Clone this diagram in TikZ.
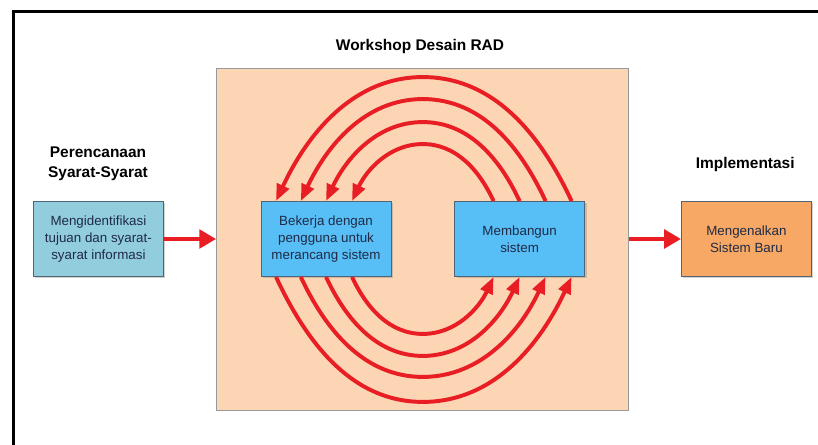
\documentclass[tikz,border=0pt]{standalone}
\usepackage{fontspec}
\setmainfont{Liberation Sans}
\usetikzlibrary{positioning,calc,arrows.meta,shadows}

\definecolor{workshopfill}{RGB}{252,213,180}
\definecolor{planfill}{RGB}{146,205,222}
\definecolor{designfill}{RGB}{88,190,246}
\definecolor{implfill}{RGB}{247,168,100}
\definecolor{boxline}{RGB}{80,100,120}
\definecolor{flowred}{RGB}{232,30,36}
\definecolor{boxtext}{RGB}{30,42,70}

\begin{document}
\begin{tikzpicture}[
    phasebox/.style={draw=boxline, line width=0.6pt, minimum width=3.25cm, minimum height=1.875cm,
      align=center, text=boxtext, font=\fontsize{9.5}{12}\selectfont,
      drop shadow={shadow xshift=0.05cm, shadow yshift=-0.05cm, opacity=0.35}},
    heading/.style={align=center, font=\fontsize{11}{14}\selectfont\bfseries},
    bigarrow/.style={flowred, line width=3.4pt, -{Triangle[length=0.42cm,width=0.46cm]}},
    looparrow/.style={flowred, line width=2.8pt, -{Triangle[length=0.42cm,width=0.32cm]}}
  ]
        \useasboundingbox (0,0) rectangle (20.45,11.125);
        % Frame
        \draw[line width=2.6pt] (0.34,0) -- (0.34,10.84) -- (20.45,10.84);
        
        % Workshop area
        \node[draw=gray!80, fill=workshopfill, minimum width=10.3cm, minimum height=8.55cm] (workshop) at (10.56,5.15) {};
        \node[heading] (workshophead) at (10.5,9.95) {Workshop Desain RAD};
        
        % Phases
        \node[heading] (planhead) at (2.45,7.03) {Perencanaan\\Syarat-Syarat};
        \node[phasebox, fill=planfill] (plan) at (2.46,5.15) {Mengidentifikasi\\tujuan dan syarat-\\syarat informasi};
        \node[phasebox, fill=designfill] (design) at (8.15,5.15) {Bekerja dengan\\pengguna untuk\\merancang sistem};
        \node[phasebox, fill=designfill] (build) at (12.99,5.15) {Membangun\\sistem};
        \node[heading] (implhead) at (18.63,7.0) {Implementasi};
        \node[phasebox, fill=implfill] (intro) at (18.66,5.15) {Mengenalkan\\Sistem Baru};
        
        % Flow between phases
        \draw[bigarrow] (plan) -- (workshop);
        \draw[bigarrow] (workshop) -- (intro);
        
        % Design loops
        \foreach \b/\m/\hgt/\dpt in {0.65cm/-0.65cm/1.425/1.425, 0cm/0cm/1.975/1.975, -0.63cm/0.65cm/2.55/2.5, -1.25cm/1.3cm/3.1/3.125}{
          \draw[looparrow] ([xshift=\m]build.north) to[out=115,in=0,looseness=0.95]
            ($(design.north)!0.5!(build.north)+(0,\hgt)$) to[out=180,in=65,looseness=0.95] ([xshift=\b]design.north);
          \draw[looparrow] ([xshift=\b]design.south) to[out=-65,in=180,looseness=0.95]
            ($(design.south)!0.5!(build.south)-(0,\dpt)$) to[out=0,in=-115,looseness=0.95] ([xshift=\m]build.south);
        }
    \end{tikzpicture}
\end{document}
